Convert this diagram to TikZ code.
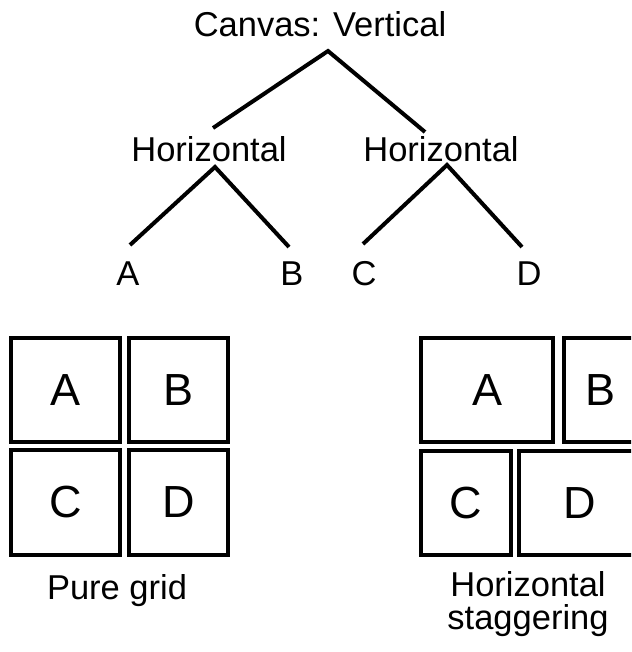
\documentclass[tikz,border=0pt]{standalone}
\usepackage{fontspec}
\setmainfont{Liberation Sans}
\begin{document}
\begin{tikzpicture}[x=1pt,y=-1pt,
  lbl/.style={font=\fontsize{34.5}{40}\selectfont, inner sep=0pt, anchor=base},
  boxl/.style={draw, line width=4pt, inner sep=0pt, font=\fontsize{45}{50}\selectfont},
  edge/.style={line width=4pt}]
\clip (0,0) rectangle (631,652);
\fill[white] (0,0) rectangle (631,652);
% tree
\node[lbl] (root) at (320,37) {Canvas: Vertical};
\node[lbl] (h1) at (209,162) {Horizontal};
\node[lbl] (h2) at (441,162) {Horizontal};
\node[lbl] (ta) at (128,285) {A};
\node[lbl] (tb) at (292,285) {B};
\node[lbl] (tc) at (364,285) {C};
\node[lbl] (td) at (529,285) {D};
\coordinate (rap) at (328,51);
\coordinate (h1t) at (213,128);
\coordinate (h2t) at (425,132);
\coordinate (h1b) at (215,167);
\coordinate (h2b) at (447,165);
\coordinate (tat) at (130,245);
\coordinate (tbt) at (289,247);
\coordinate (tct) at (363,244);
\coordinate (tdt) at (522,247);
\draw[edge] (h1t) -- (rap) -- (h2t);
\draw[edge] (tat) -- (h1b) -- (tbt);
\draw[edge] (tct) -- (h2b) -- (tdt);
% pure grid
\node[boxl, minimum width=109pt, minimum height=104pt] (pa) at (65.5,390) {A};
\node[boxl, minimum width=99pt, minimum height=104pt] (pb) at (178.5,390) {B};
\node[boxl, minimum width=109pt, minimum height=105pt] (pc) at (65.5,502.5) {C};
\node[boxl, minimum width=99pt, minimum height=105pt] (pd) at (178.5,502.5) {D};
\node[lbl] (pg) at (117,599) {Pure grid};
% horizontal staggering
\node[boxl, minimum width=132pt, minimum height=104pt] (sa) at (487,390) {A};
\node[boxl, minimum width=72pt, minimum height=104pt] (sb) at (600,390) {B};
\node[boxl, minimum width=90pt, minimum height=104pt] (sc) at (466,503) {C};
\node[boxl, minimum width=122pt, minimum height=104pt] (sd) at (580,503) {D};
\node[lbl, align=center, font=\fontsize{34.5}{33}\selectfont] (hs) at (528,629) {Horizontal\\staggering};
\end{tikzpicture}
\end{document}
